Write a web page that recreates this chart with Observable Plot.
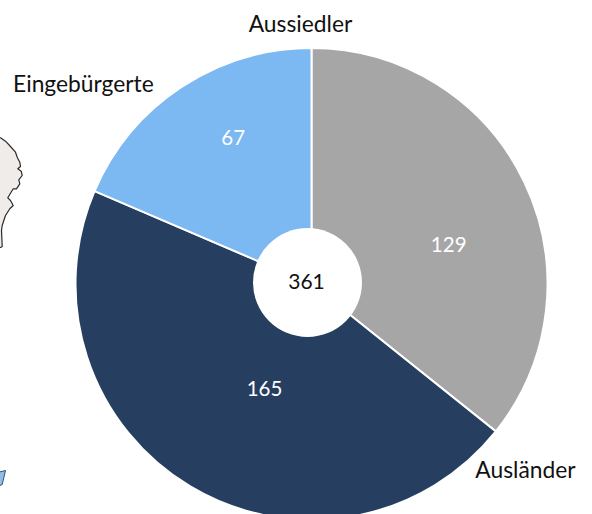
<!DOCTYPE html>
<html><head><meta charset="utf-8">
<script src="https://cdn.jsdelivr.net/npm/d3@7"></script>
<script src="https://cdn.jsdelivr.net/npm/@observablehq/plot@0.6"></script>
<style>html,body{margin:0;padding:0;background:#fff}svg{display:block}</style>
</head><body><div id="chart"></div>
<script>
const groups = ["Aussiedler", "Ausländer", "Eingebürgerte"];
const values = [129, 165, 67];
const colors = ["#a6a6a6", "#263f60", "#7cb8f2"];
const total = 361;
const mapCoastX = [0,5,10,15,16.7,19.3,20,17.3,20.7,21.7,18.3,19.3,16,12.7,10,7.3,10,12.7,9.3,5,3.3,1.7,1,1.7,0,-3,-3];
const mapCoastY = [137.3,140.7,146,151.7,156.7,161.7,166,168.3,170.7,175,179.3,183.3,188.3,188.3,192.7,197.3,200,205,208.3,215,220,225,230,246,247,247,137.3];
const mapIslandX = [-3,5,1.7,-3];
const mapIslandY = [472,470,484,486];

const cx = 311.5, cy = 284, R = 236;
const font = "Lato, 'Open Sans', sans-serif";
const pie = d3.pie().sort(null)(values);
const mid = a => (a.startAngle + a.endAngle) / 2;
const rows = groups.map((g, i) => ({g, v: values[i], color: colors[i], arc: pie[i]}));
const polar = (a, r) => [cx + r * Math.sin(a), cy - r * Math.cos(a)];

function sectors(index, {x, y}) {
  const g = d3.create("svg:g");
  const arc = d3.arc().innerRadius(0).outerRadius(x(R) - x(0));
  g.selectAll("path").data(rows).join("path")
    .attr("transform", `translate(${x(cx)},${y(cy)})`)
    .attr("d", d => arc(d.arc))
    .attr("fill", d => d.color)
    .attr("stroke", "#fff")
    .attr("stroke-width", 2);
  return g.node();
}
const valueText = (i, dx, dy) => Plot.text([rows[i]], {
  x: d => polar(mid(d.arc), 145)[0], y: d => polar(mid(d.arc), 145)[1],
  text: d => String(d.v), dx, dy, fill: "#fff", fontSize: 20.5, fontFamily: font
});
const outerText = (label, angle, dx, dy, anchor) => Plot.text([label], {
  x: () => polar(angle, R)[0], y: () => polar(angle, R)[1],
  text: d => d, dx, dy, textAnchor: anchor, fill: "#111", fontSize: 22.8, fontFamily: font
});

const plot = Plot.plot({
  width: 592, height: 514, margin: 0,
  x: {domain: [0, 592], range: [0, 592], axis: null},
  y: {domain: [0, 514], range: [0, 514], axis: null},
  style: {background: "#fff", overflow: "hidden"},
  marks: [
    Plot.line(mapCoastX.map((x, i) => [x, mapCoastY[i]]), {x: d => d[0], y: d => d[1], fill: "#f0ecea", stroke: "#2b2b2b", strokeWidth: 1.2, curve: "linear"}),
    Plot.line(mapIslandX.map((x, i) => [x, mapIslandY[i]]), {x: d => d[0], y: d => d[1], fill: "#8fbfe8", stroke: "#34506e", strokeWidth: 1, curve: "linear"}),
    sectors,
    Plot.dot([total], {x: () => cx, y: () => cy, dx: -4.5, dy: -2, r: 54.5, fill: "#fff", stroke: "none"}),
    Plot.text([total], {x: () => cx, y: () => cy, dx: -5.5, dy: -2, text: d => String(d), fill: "#111", fontSize: 21, fontFamily: font}),
    valueText(0, 6, 24),
    valueText(1, 27, -19),
    valueText(2, 1, -25),
    outerText(groups[0], pie[0].startAngle, -11.5, -24, "middle"),
    outerText(groups[1], pie[0].endAngle, -21, 39, "start"),
    outerText(groups[2], pie[2].startAngle, -82, -107, "start")
  ]
});
document.getElementById("chart").append(plot);
</script></body></html>
